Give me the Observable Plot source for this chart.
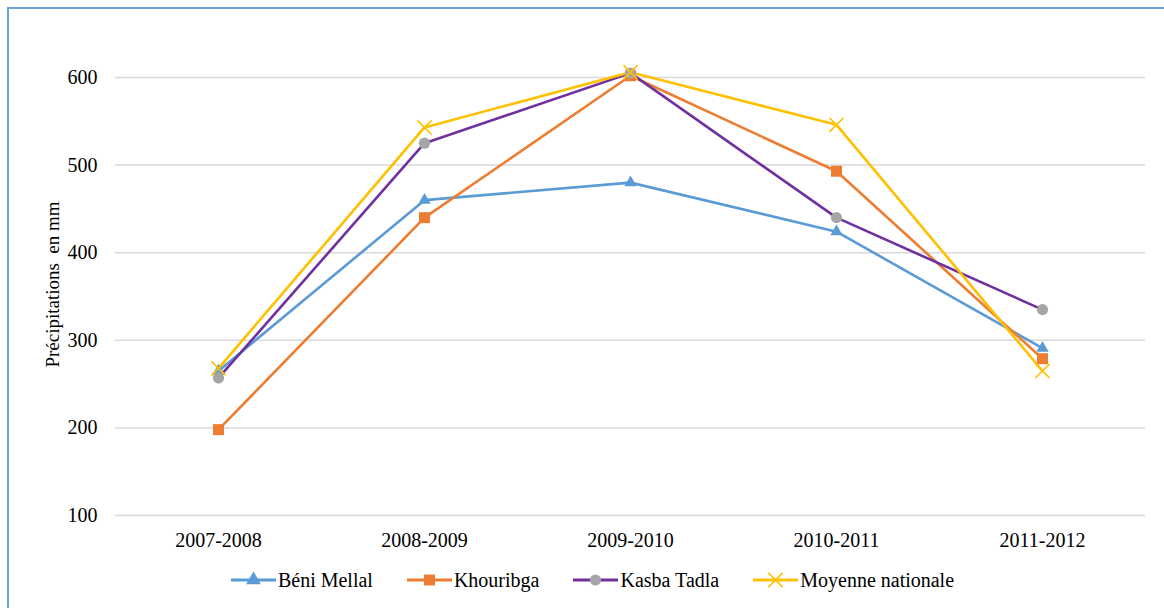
<!DOCTYPE html>
<html>
<head>
<meta charset="utf-8">
<script src="https://cdn.jsdelivr.net/npm/d3@7"></script>
<script src="https://cdn.jsdelivr.net/npm/@observablehq/plot@0.6"></script>
<style>
  html, body { margin: 0; padding: 0; background: #fff; font-family: 'Liberation Serif', serif; }
  #wrap { position: relative; width: 1164px; height: 608px; overflow: hidden; font-family: 'Liberation Serif', serif; }
  #wrap svg, #wrap svg text { font-family: 'Liberation Serif', serif !important; }
  #frame { position: absolute; left: 7px; top: 7px; width: 1200px; height: 700px; border-left: 2px solid #6fa3d8; border-top: 2px solid #6fa3d8; box-sizing: border-box; }
  #chart { position: absolute; left: 0; top: 0; }
  #legend { position: absolute; left: 0; top: 560px; width: 1164px; height: 40px; display: flex; justify-content: center; align-items: center; padding-left: 21px; box-sizing: border-box; font-size: 20px; color: #000; }
  .item { display: flex; align-items: center; margin: 0 17px; }
  .item svg { margin-right: 2px; }
</style>
</head>
<body>
<div id="wrap">
  <div id="frame"></div>
  <div id="chart"></div>
  <div id="legend"></div>
</div>
<script>
const years = ["2007-2008", "2008-2009", "2009-2010", "2010-2011", "2011-2012"];
const seriesNames = ["Béni Mellal", "Khouribga", "Kasba Tadla", "Moyenne nationale"];
const beniMellal = [265, 460, 480, 424, 291];
const khouribga = [198, 440, 602, 493, 279];
const kasbaTadla = [257, 525, 605, 440, 335];
const moyenneNationale = [268, 543, 606, 546, 265];
const yTicks = [100, 200, 300, 400, 500, 600];
const yLabel = "Précipitations  en mm";

const lineColors = ["#5b9bd5", "#ed7d31", "#7030a0", "#ffc000"];
const markerColors = ["#5b9bd5", "#ed7d31", "#a5a5a5", "#ffc000"];
const symbols = ["triangle", "square", "circle", "times"];
const radii = [4.6, 6.2, 5.6, 6.5];

const allValues = [beniMellal, khouribga, kasbaTadla, moyenneNationale];
const series = seriesNames.map((name, si) =>
  years.map((y, i) => ({series: name, year: y, value: allValues[si][i]}))
);

const marks = [
  Plot.gridY(yTicks, {stroke: "#d9d9d9", strokeOpacity: 1, strokeWidth: 1.5}),
  Plot.axisY(yTicks, {tickSize: 0, tickPadding: 18, fontSize: 20, label: null}),
  Plot.axisX({tickSize: 0, tickPadding: 17, fontSize: 20, label: null}),
  Plot.text([yLabel], {frameAnchor: "left", textAnchor: "middle", dx: -63, dy: -12, rotate: -90, fontSize: 19, fill: "#000"})
];
series.forEach((data, si) => {
  marks.push(Plot.line(data, {x: "year", y: "value", stroke: lineColors[si], strokeWidth: 2.6}));
});
series.forEach((data, si) => {
  const sym = symbols[si];
  if (sym === "times") {
    marks.push(Plot.dot(data, {x: "year", y: "value", symbol: "times", r: radii[si], stroke: markerColors[si], strokeWidth: 1.6, fill: "none"}));
  } else {
    marks.push(Plot.dot(data, {x: "year", y: "value", symbol: sym, r: radii[si], fill: markerColors[si], stroke: "none"}));
  }
});

const chart = Plot.plot({
  width: 1164,
  height: 560,
  marginLeft: 115,
  marginRight: 19,
  marginTop: 77,
  marginBottom: 45,
  style: {fontFamily: "Liberation Serif, serif", fontSize: "20px", color: "#000", background: "transparent"},
  x: {type: "point", domain: years, padding: 0.5, label: null},
  y: {domain: [100, 600], label: null},
  marks
});
document.getElementById("chart").appendChild(chart);

// legend
const legend = document.getElementById("legend");
seriesNames.forEach((name, si) => {
  const item = document.createElement("div");
  item.className = "item";
  const sw = d3.create("svg").attr("width", 45).attr("height", 20);
  sw.append("line").attr("x1", 0).attr("x2", 45).attr("y1", 10).attr("y2", 10)
    .attr("stroke", lineColors[si]).attr("stroke-width", 3);
  const symType = {triangle: d3.symbolTriangle, square: d3.symbolSquare, circle: d3.symbolCircle, times: d3.symbolTimes}[symbols[si]];
  const rr = symbols[si] === "triangle" ? 5.5 : radii[si];
  const path = d3.symbol(symType, Math.PI * rr * rr);
  const p = sw.append("path").attr("d", path()).attr("transform", "translate(22.5,10)");
  if (symbols[si] === "times") p.attr("fill", "none").attr("stroke", markerColors[si]).attr("stroke-width", 1.6);
  else p.attr("fill", markerColors[si]);
  item.appendChild(sw.node());
  const t = document.createElement("span");
  t.textContent = name;
  item.appendChild(t);
  legend.appendChild(item);
});
</script>
</body>
</html>
